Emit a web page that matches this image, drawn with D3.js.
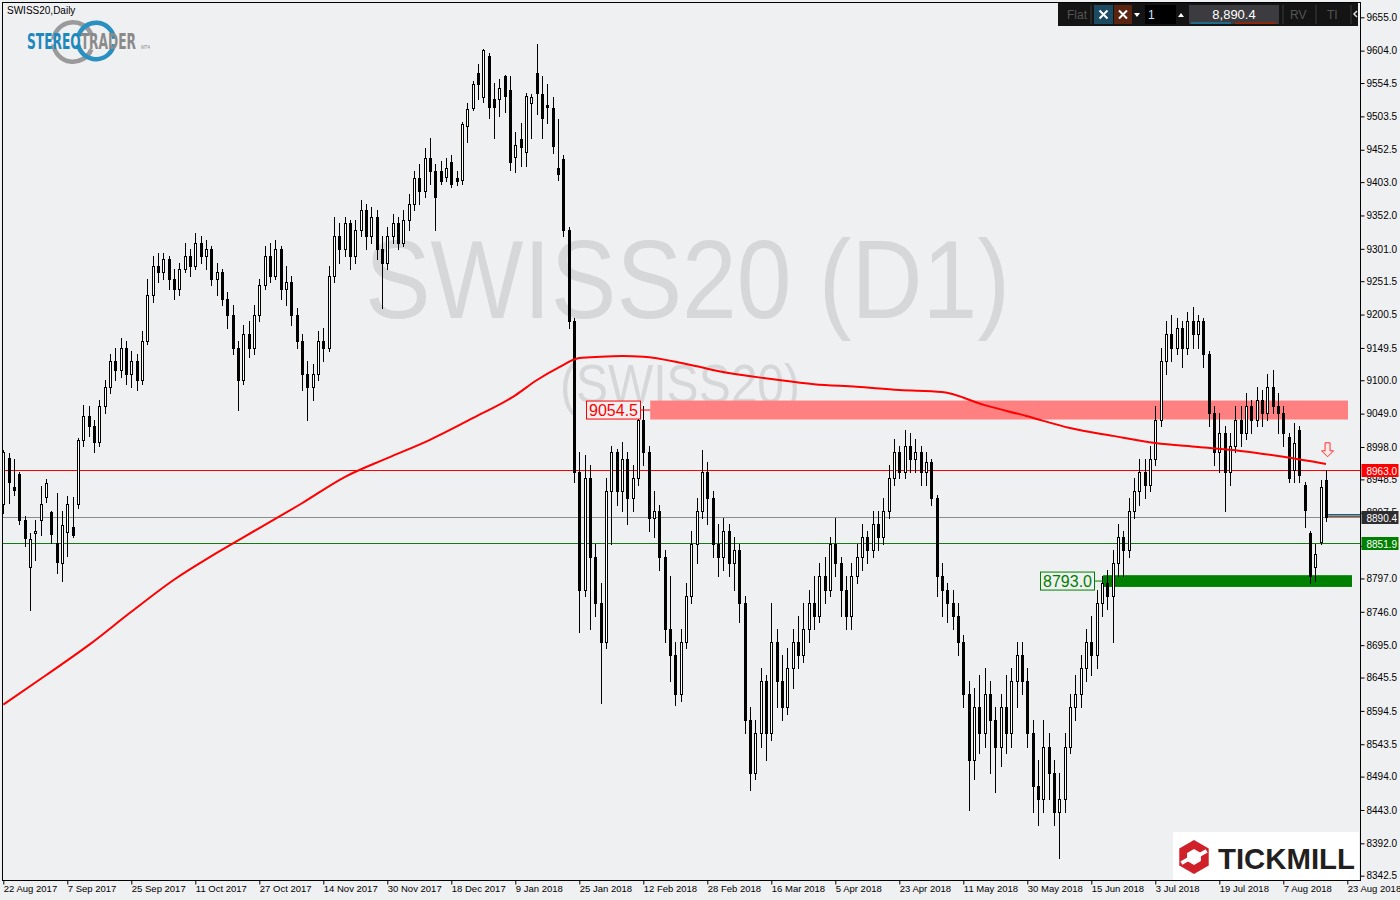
<!DOCTYPE html>
<html><head><meta charset="utf-8">
<script src="https://cdn.jsdelivr.net/npm/d3@7"></script>
<style>html,body{margin:0;padding:0;background:#eff0f2;}svg{display:block;}</style>
</head><body><svg id="c" width="1400" height="900"></svg>
<script>
// ---------------- DATA ----------------
const symbolTitle = "SWISS20,Daily";
const open = [
8911,8981,8937,8957,8886,8815,8866,8886,8922,8899,
8851,8821,8868,8876,8911,9009,9045,9030,9005,9060,
9090,9130,9115,9150,9110,9130,9100,9160,9230,9275,
9265,9285,9255,9240,9270,9290,9275,9310,9290,9300,
9255,9265,9225,9200,9150,9100,9170,9150,9200,9245,
9290,9260,9300,9240,9250,9200,9160,9110,9090,9110,
9160,9150,9260,9320,9300,9340,9290,9330,9360,9320,
9350,9300,9280,9320,9340,9310,9345,9370,9410,9390,
9440,9420,9420,9411,9434,9410,9406,9489,9516,9570,
9533,9596,9530,9530,9565,9544,9441,9469,9449,9524,
9570,9538,9521,9516,9425,9438,9330,9190,8960,8780,
8950,8830,8760,8700,8930,8990,8930,8980,8920,8950,
9040,8990,8890,8900,8830,8720,8680,8620,8700,8770,
8850,8900,8960,8920,8850,8830,8870,8820,8840,8760,
8580,8500,8560,8640,8560,8700,8640,8600,8660,8700,
8680,8720,8760,8740,8800,8780,8850,8820,8780,8740,
8800,8830,8860,8840,8880,8860,8900,8950,8990,8960,
9000,8980,8990,8960,8975,8920,8800,8780,8760,8740,
8700,8620,8520,8600,8560,8620,8580,8540,8600,8560,
8640,8680,8640,8560,8480,8460,8540,8500,8440,8460,
8540,8600,8620,8660,8700,8680,8760,8790,8770,8820,
8860,8840,8900,8930,8960,8940,8980,9040,9130,9170,
9150,9180,9150,9190,9170,9190,9140,9050,8990,9020,
8960,9000,9040,9020,9060,9040,9070,9050,9090,9060,
9050,9013,8963,9024,8940,8866,8815,8853,8947];
const high = [
8993,8989,8980,8960,8892,8866,8886,8938,8949,8900,
8928,8900,8923,8922,9012,9062,9060,9040,9070,9100,
9140,9150,9165,9160,9145,9140,9175,9255,9290,9295,
9295,9290,9270,9280,9310,9300,9325,9320,9315,9305,
9280,9270,9235,9215,9160,9185,9190,9215,9255,9305,
9310,9315,9305,9275,9260,9210,9170,9130,9125,9175,
9180,9275,9350,9340,9350,9345,9345,9375,9370,9365,
9360,9320,9335,9355,9350,9360,9385,9420,9430,9455,
9470,9430,9435,9440,9445,9420,9495,9524,9558,9584,
9607,9600,9555,9561,9567,9565,9480,9493,9540,9538,
9614,9565,9553,9533,9500,9445,9335,9195,8990,8985,
8970,8850,8790,8950,9000,8995,9005,8990,8970,9062,
9060,9000,8930,8910,8840,8800,8700,8720,8790,8870,
8920,8993,8975,8930,8880,8890,8880,8860,8850,8770,
8600,8580,8660,8650,8760,8720,8680,8690,8720,8740,
8760,8780,8800,8820,8830,8860,8890,8830,8800,8820,
8850,8880,8870,8900,8900,8920,8970,9010,9000,9024,
9020,9010,9000,8990,8980,8925,8820,8790,8780,8760,
8710,8640,8630,8650,8660,8640,8600,8620,8650,8660,
8700,8700,8660,8580,8520,8580,8560,8520,8500,8560,
8620,8650,8680,8720,8740,8780,8800,8810,8840,8880,
8870,8920,8950,8980,8980,9000,9060,9150,9190,9200,
9195,9190,9205,9212,9200,9195,9145,9060,9050,9030,
9020,9060,9060,9080,9070,9090,9085,9110,9115,9080,
9060,9020,9035,9030,8945,8870,8850,8947,8963];
const low = [
8897,8912,8925,8880,8847,8749,8825,8863,8914,8851,
8805,8793,8831,8860,8905,9000,9015,8990,9000,9050,
9080,9100,9105,9095,9090,9085,9095,9155,9220,9250,
9255,9240,9225,9230,9265,9260,9270,9280,9270,9245,
9230,9215,9180,9140,9055,9095,9135,9140,9190,9240,
9250,9255,9225,9215,9185,9150,9085,9040,9070,9100,
9130,9145,9250,9280,9290,9270,9280,9320,9300,9310,
9285,9210,9270,9310,9300,9305,9330,9360,9370,9380,
9400,9330,9400,9405,9395,9398,9400,9464,9514,9530,
9525,9501,9470,9504,9510,9422,9418,9428,9428,9470,
9507,9470,9493,9447,9406,9320,9180,8945,8715,8770,
8720,8740,8607,8690,8850,8910,8900,8880,8900,8940,
8970,8870,8860,8810,8700,8640,8604,8610,8690,8760,
8820,8890,8880,8830,8800,8810,8800,8780,8730,8560,
8474,8490,8540,8520,8550,8600,8580,8590,8630,8660,
8670,8700,8720,8730,8760,8770,8800,8740,8720,8720,
8790,8810,8820,8830,8840,8850,8890,8940,8950,8950,
8960,8960,8940,8940,8910,8770,8740,8730,8720,8680,
8600,8443,8490,8530,8540,8500,8470,8510,8530,8540,
8600,8620,8540,8440,8420,8440,8460,8420,8370,8440,
8530,8580,8600,8640,8650,8660,8740,8750,8700,8800,
8800,8830,8890,8910,8920,8930,8970,9030,9110,9130,
9140,9120,9140,9150,9150,9120,9030,8970,8960,8900,
8940,8990,9000,9010,9020,9030,9030,9040,9050,9020,
9000,8945,8945,8945,8876,8790,8793,8850,8885];
const close = [
8990,8944,8932,8886,8859,8857,8869,8911,8943,8865,
8822,8879,8911,8863,9009,9045,9030,9005,9060,9090,
9130,9115,9150,9110,9130,9100,9160,9230,9275,9265,
9285,9255,9240,9270,9290,9275,9310,9290,9300,9255,
9265,9225,9200,9150,9100,9170,9150,9200,9245,9290,
9260,9300,9240,9250,9200,9160,9110,9090,9110,9160,
9150,9260,9320,9300,9340,9290,9330,9360,9320,9350,
9300,9280,9320,9340,9310,9345,9370,9410,9390,9440,
9420,9380,9405,9425,9400,9405,9492,9515,9553,9553,
9605,9518,9518,9547,9535,9434,9460,9457,9535,9533,
9539,9501,9518,9458,9415,9330,9190,8960,8780,8950,
8830,8760,8700,8930,8990,8930,8980,8920,8950,9040,
8990,8890,8900,8830,8720,8680,8620,8700,8770,8850,
8900,8960,8920,8850,8830,8870,8820,8840,8760,8580,
8500,8560,8640,8560,8700,8640,8600,8660,8700,8680,
8720,8760,8740,8800,8780,8850,8820,8780,8740,8800,
8830,8860,8840,8880,8860,8900,8950,8990,8960,9000,
8980,8990,8960,8975,8920,8800,8780,8760,8740,8700,
8620,8520,8600,8560,8620,8580,8540,8600,8560,8640,
8680,8640,8560,8480,8460,8540,8500,8440,8460,8540,
8600,8620,8660,8700,8680,8760,8790,8770,8820,8860,
8840,8900,8930,8960,8940,8980,9040,9130,9170,9150,
9180,9150,9190,9170,9190,9140,9050,8990,9020,8960,
9000,9040,9020,9060,9040,9070,9050,9090,9060,9050,
9020,8951,9004,8955,8902,8800,8835,8937,8890.4];

// 200-day moving average, sampled at bar indices
const maBars   = [0,8,16,24,32,40,48,56,64,72,80,88,96,100,104,108,112,116,120,128,136,144,152,160,168,176,184,192,200,208,216,224,232,240,248];
const maValues = [8604,8649,8695,8746,8795,8836,8874,8912,8952,8981,9009,9042,9077,9100,9119,9134,9136,9137,9136,9125,9111,9102,9094,9090,9085,9082,9062,9045,9027,9015,9004,8998,8992,8983,8972];

const priceTicks = [9655.0,9604.0,9554.5,9503.5,9452.5,9403.0,9352.0,9301.0,9251.5,9200.5,9149.5,9100.0,9049.0,8998.0,8948.5,8897.5,8846.5,8797.0,8746.0,8695.0,8645.5,8594.5,8543.5,8494.0,8443.0,8392.0,8342.5];
const dateLabels = ["22 Aug 2017","7 Sep 2017","25 Sep 2017","11 Oct 2017","27 Oct 2017","14 Nov 2017","30 Nov 2017","18 Dec 2017","9 Jan 2018","25 Jan 2018","12 Feb 2018","28 Feb 2018","16 Mar 2018","5 Apr 2018","23 Apr 2018","11 May 2018","30 May 2018","15 Jun 2018","3 Jul 2018","19 Jul 2018","7 Aug 2018","23 Aug 2018"];
const barsPerLabel = 12;

const resistanceZone = [9040, 9069];   // label 9054.5
const resistanceLabel = "9054.5";
const resistanceStartBar = 121.3;
const supportZone = [8784, 8802];      // label 8793.0
const supportLabel = "8793.0";
const supportStartBar = 206.2;

const redLevel = 8963.0, bidLevel = 8890.4, greenLevel = 8851.9;
const lastPriceText = "8,890.4";

// ---------------- LAYOUT ----------------
const BG = "#eff0f2";
const L = 2.5, T = 2.5, R = 1360.5, B = 880.5;
const svg = d3.select("#c");
const FONT = "'Liberation Sans', Arial, sans-serif";

const x = d3.scaleLinear().domain([0, 252]).range([3.3, 1347.3]);
const y = d3.scaleLinear().domain([8342.5, 9655]).range([875.7, 17.3]);

svg.append("rect").attr("width",1400).attr("height",900).attr("fill",BG);

const plot = svg.append("g");
plot.append("clipPath").attr("id","clip").append("rect")
  .attr("x",L).attr("y",T).attr("width",R-L).attr("height",B-T);
const g = plot.append("g").attr("clip-path","url(#clip)");

// watermark
g.append("text").text("SWISS20 (D1)")
  .attr("x",365).attr("y",318).attr("font-family",FONT).attr("font-size",112)
  .attr("textLength",645).attr("lengthAdjust","spacingAndGlyphs")
  .attr("fill","#d6d7d9");
g.append("text").text("(SWISS20)")
  .attr("x",560).attr("y",403).attr("font-family",FONT).attr("font-size",56)
  .attr("textLength",240).attr("lengthAdjust","spacingAndGlyphs")
  .attr("fill","#d6d7d9");

// zones
g.append("rect").attr("x",x(resistanceStartBar)).attr("width",1348-x(resistanceStartBar))
  .attr("y",y(resistanceZone[1])).attr("height",y(resistanceZone[0])-y(resistanceZone[1]))
  .attr("fill","#ff8080");
g.append("rect").attr("x",x(supportStartBar)).attr("width",1352-x(supportStartBar))
  .attr("y",y(supportZone[1])).attr("height",y(supportZone[0])-y(supportZone[1]))
  .attr("fill","#008000");

// horizontal lines
const hl = (v,col)=>g.append("line").attr("x1",L).attr("x2",R)
  .attr("y1",Math.round(y(v))+0.5).attr("y2",Math.round(y(v))+0.5).attr("stroke",col).attr("stroke-width",1);
hl(bidLevel,"#8c8c8c");
hl(redLevel,"#ff0000");
hl(greenLevel,"#157a15");
// stereo trader order lines near last bar
g.append("line").attr("x1",x(248.4)).attr("x2",R).attr("y1",y(bidLevel)-2.5).attr("y2",y(bidLevel)-2.5).attr("stroke","#1f5a7a").attr("stroke-width",1.5);
g.append("line").attr("x1",x(248.4)).attr("x2",R).attr("y1",y(bidLevel)-1).attr("y2",y(bidLevel)-1).attr("stroke","#7a3a1a").attr("stroke-width",1);

// candles
const bars = d3.range(close.length).map(i=>({i,o:open[i],h:high[i],l:low[i],c:close[i]}));
const cg = g.append("g");
cg.selectAll("line").data(bars).join("line")
  .attr("x1",d=>Math.round(x(d.i))+0.5).attr("x2",d=>Math.round(x(d.i))+0.5)
  .attr("y1",d=>Math.round(y(d.h))).attr("y2",d=>Math.round(y(d.l))+1)
  .attr("stroke","#000").attr("stroke-width",1);
cg.selectAll("rect").data(bars).join("rect")
  .attr("x",d=>Math.round(x(d.i))-0.5).attr("width",2)
  .attr("y",d=>Math.round(y(Math.max(d.o,d.c)))+0.5)
  .attr("height",d=>Math.max(1,Math.round(y(Math.min(d.o,d.c)))-Math.round(y(Math.max(d.o,d.c)))))
  .attr("fill",d=>d.c>=d.o?"#ffffff":"#000")
  .attr("stroke","#000").attr("stroke-width",1);

// moving average
g.append("path").datum(maBars.map((b,k)=>[b,maValues[k]]))
  .attr("d",d3.line().x(d=>x(d[0])).y(d=>y(d[1])).curve(d3.curveMonotoneX))
  .attr("fill","none").attr("stroke","#ff0000").attr("stroke-width",2);

// down arrow signal
{
  const ax = x(248.3), ay = y(8983);
  g.append("path").attr("d",`M${ax},${ay} l-6,-6 h3.5 v-8 h5 v8 h3.5 z`)
    .attr("fill","#ffe8e8").attr("stroke","#ff3030").attr("stroke-width",1);
}

// zone labels
function zoneLabel(txt,v,xRight,xTo,col){
  const yy = y(v);
  g.append("line").attr("x1",xRight).attr("x2",xTo).attr("y1",yy).attr("y2",yy).attr("stroke",col).attr("stroke-width",1);
  g.append("rect").attr("x",xRight-54).attr("y",yy-9).attr("width",54).attr("height",18)
    .attr("fill",BG).attr("stroke",col).attr("stroke-width",1);
  g.append("text").text(txt).attr("x",xRight-27).attr("y",yy+6).attr("text-anchor","middle")
    .attr("font-family",FONT).attr("font-size",16).attr("fill",col);
}
zoneLabel(resistanceLabel,(resistanceZone[0]+resistanceZone[1])/2,640.5,x(resistanceStartBar),"#ff0000");
zoneLabel(supportLabel,(supportZone[0]+supportZone[1])/2,1094.5,x(supportStartBar),"#008000");

// frame
svg.append("rect").attr("x",L).attr("y",T).attr("width",R-L).attr("height",B-T)
  .attr("fill","none").attr("stroke","#000").attr("stroke-width",1);

// axes
const ya = svg.append("g").attr("transform",`translate(${R},0)`)
  .call(d3.axisRight(y).tickValues(priceTicks).tickSize(4).tickFormat(d3.format(".1f")));
ya.select(".domain").remove();
ya.selectAll("line").attr("stroke","#000");
ya.selectAll("text").attr("font-family",FONT).attr("font-size",10).attr("fill","#000").attr("x",6);

const xa = svg.append("g").attr("transform",`translate(0,${B})`)
  .call(d3.axisBottom(x).tickValues(dateLabels.map((d,k)=>k*barsPerLabel)).tickSize(4)
    .tickFormat((d,k)=>dateLabels[k]));
xa.select(".domain").remove();
xa.selectAll("line").attr("stroke","#000");
xa.selectAll("text").attr("font-family",FONT).attr("font-size",9.5).attr("fill","#000")
  .attr("text-anchor","start").attr("dx",0).attr("y",5);

// price boxes on axis
function priceBox(v,bg,txt){
  const yy = Math.round(y(v))+0.5;
  svg.append("rect").attr("x",R+1).attr("y",yy-6.5).attr("width",37).attr("height",13).attr("fill",bg);
  svg.append("text").text(txt).attr("x",R+6).attr("y",yy+4).attr("font-family",FONT)
    .attr("font-size",10).attr("fill","#fff");
}
priceBox(redLevel,"#ff0000",redLevel.toFixed(1));
priceBox(bidLevel,"#2e2e30",bidLevel.toFixed(1));
priceBox(greenLevel,"#008000",greenLevel.toFixed(1));

// title
svg.append("text").text(symbolTitle).attr("x",7).attr("y",14).attr("font-family",FONT)
  .attr("font-size",10).attr("fill","#000");

// StereoTrader logo
{
  const lg = svg.append("g");
  const arc = d3.arc();
  lg.append("path").attr("transform","translate(73,42)")
    .attr("d",arc({innerRadius:17.5,outerRadius:22,startAngle:-1.45,endAngle:1.2})).attr("fill","#9a9a9a");
  lg.append("path").attr("transform","translate(73,42)")
    .attr("d",arc({innerRadius:17.5,outerRadius:22,startAngle:1.95,endAngle:4.6})).attr("fill","#9a9a9a");
  lg.append("path").attr("transform","translate(96,41)")
    .attr("d",arc({innerRadius:16,outerRadius:20.5,startAngle:-1.3,endAngle:1.45})).attr("fill","#2a8fc1");
  lg.append("path").attr("transform","translate(96,41)")
    .attr("d",arc({innerRadius:16,outerRadius:20.5,startAngle:1.75,endAngle:4.5})).attr("fill","#2a8fc1");
  lg.append("text").attr("x",27).attr("y",49).attr("font-family","'Liberation Sans Narrow','DejaVu Sans Condensed',sans-serif")
    .attr("font-weight","bold").attr("font-size",21).attr("textLength",109).attr("lengthAdjust","spacingAndGlyphs")
    .selectAll("tspan").data([["STEREO","#1e88bd"],["TRADER","#8a8a8a"]]).join("tspan")
    .text(d=>d[0]).attr("fill",d=>d[1]);
  lg.append("text").text("MT4").attr("x",141).attr("y",49).attr("font-family",FONT).attr("font-size",4.5).attr("fill","#8a8a8a");
}

// toolbar
{
  const tb = svg.append("g");
  tb.append("rect").attr("x",1058).attr("y",3).attr("width",300).attr("height",23).attr("fill","#141414");
  tb.append("text").text("Flat").attr("x",1067).attr("y",19).attr("font-family",FONT).attr("font-size",12).attr("fill","#555");
  const sep = xx=>tb.append("line").attr("x1",xx).attr("x2",xx).attr("y1",5).attr("y2",24).attr("stroke","#3a3a3a");
  [1091,1283,1316,1351].forEach(sep);
  tb.append("rect").attr("x",1094).attr("y",5).attr("width",19).attr("height",19).attr("fill","#1c4a60");
  tb.append("rect").attr("x",1114).attr("y",5).attr("width",18).attr("height",19).attr("fill","#5a2410");
  [[1103.5,14.5],[1123,14.5]].forEach(([cx,cy])=>{
    tb.append("path").attr("d",`M${cx-4},${cy-4}L${cx+4},${cy+4}M${cx+4},${cy-4}L${cx-4},${cy+4}`)
      .attr("stroke","#fff").attr("stroke-width",2);
  });
  tb.append("path").attr("d","M1134,13 h6 l-3,4 z").attr("fill","#fff");
  tb.append("rect").attr("x",1145).attr("y",5).attr("width",31).attr("height",19).attr("fill","#000");
  tb.append("text").text("1").attr("x",1148).attr("y",19).attr("font-family",FONT).attr("font-size",12).attr("fill","#cfe6ff");
  tb.append("path").attr("d","M1178,17 h6 l-3,-4 z").attr("fill","#fff");
  tb.append("rect").attr("x",1189).attr("y",5).attr("width",90).attr("height",19).attr("fill","#3c3c40");
  tb.append("text").text(lastPriceText).attr("x",1234).attr("y",19).attr("text-anchor","middle")
    .attr("font-family",FONT).attr("font-size",13).attr("fill","#fff");
  tb.append("rect").attr("x",1191).attr("y",22).attr("width",40).attr("height",2).attr("fill","#1e6d8a");
  tb.append("rect").attr("x",1235).attr("y",22).attr("width",41).attr("height",2).attr("fill","#8a2a0e");
  tb.append("text").text("RV").attr("x",1290).attr("y",19).attr("font-family",FONT).attr("font-size",12).attr("fill","#555");
  tb.append("text").text("TI").attr("x",1327).attr("y",19).attr("font-family",FONT).attr("font-size",12).attr("fill","#555");
  tb.append("path").attr("d","M1357,11 l-3,3 l3,3").attr("stroke","#ddd").attr("fill","none").attr("stroke-width",1.5);
}

// Tickmill logo
{
  const tk = svg.append("g");
  tk.append("rect").attr("x",1173).attr("y",832).attr("width",186).attr("height",48).attr("fill","#fff");
  const cx=1194, cy=857, r=17;
  const hex = d3.range(6).map(k=>{const a=Math.PI/6+k*Math.PI/3;return [cx+r*Math.cos(a),cy+r*Math.sin(a)];});
  tk.append("path").attr("d",d3.line()(hex)+"Z").attr("fill","#d0202a");
  const hex2 = d3.range(6).map(k=>{const a=Math.PI/6+k*Math.PI/3;return [cx+8*Math.cos(a),cy+8*Math.sin(a)];});
  tk.append("path").attr("d",d3.line()(hex2)+"Z").attr("fill","#fff");
  tk.append("path").attr("d",`M${cx-14},${cy-3} L${cx-4},${cy-3} L${cx-4},${cy+1} L${cx-14},${cy+1}Z`).attr("fill","#fff").attr("transform",`rotate(-30,${cx},${cy})`);
  tk.append("path").attr("d",`M${cx+4},${cy-1} L${cx+14},${cy-1} L${cx+14},${cy+3} L${cx+4},${cy+3}Z`).attr("fill","#fff").attr("transform",`rotate(-30,${cx},${cy})`);
  tk.append("text").text("TICKMILL").attr("x",1218).attr("y",869).attr("font-family",FONT)
    .attr("font-weight","bold").attr("font-size",30).attr("textLength",137).attr("lengthAdjust","spacingAndGlyphs")
    .attr("fill","#231f20");
}
</script></body></html>
